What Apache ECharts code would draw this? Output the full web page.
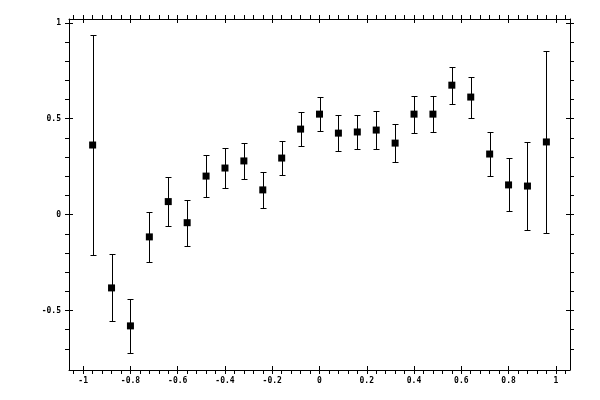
<!DOCTYPE html>
<html>
<head>
<meta charset="utf-8">
<script src="https://cdn.jsdelivr.net/npm/echarts@6/dist/echarts.min.js"></script>
<style>html,body{margin:0;padding:0;background:#fff}#c{width:600px;height:400px}</style>
</head>
<body>
<div id="c"></div>
<script>
const xValues = [-0.96,-0.88,-0.80,-0.72,-0.64,-0.56,-0.48,-0.40,-0.32,-0.24,-0.16,-0.08,0.00,0.08,0.16,0.24,0.32,0.40,0.48,0.56,0.64,0.72,0.80,0.88,0.96];
const yValues = [0.363,-0.382,-0.580,-0.116,0.068,-0.042,0.201,0.243,0.280,0.129,0.295,0.446,0.524,0.425,0.431,0.441,0.373,0.524,0.524,0.675,0.613,0.316,0.155,0.149,0.379];
const yErrors = [0.572,0.175,0.142,0.132,0.127,0.120,0.109,0.104,0.094,0.093,0.089,0.089,0.089,0.092,0.091,0.097,0.097,0.097,0.094,0.097,0.107,0.115,0.138,0.230,0.474];

const xMajorTicks = [-1,-0.8,-0.6,-0.4,-0.2,0,0.2,0.4,0.6,0.8,1];
const xMinorTicks = [-1.04,-0.96,-0.92,-0.88,-0.84,-0.76,-0.72,-0.68,-0.64,-0.56,-0.52,-0.48,-0.44,-0.36,-0.32,-0.28,-0.24,-0.16,-0.12,-0.08,-0.04,0.04,0.08,0.12,0.16,0.24,0.28,0.32,0.36,0.44,0.48,0.52,0.56,0.64,0.68,0.72,0.76,0.84,0.88,0.92,0.96,1.04];
const yMajorTicks = [-0.5,0,0.5,1];
const yMinorTicks = [-0.7,-0.6,-0.4,-0.3,-0.2,-0.1,0.1,0.2,0.3,0.4,0.6,0.7,0.8,0.9];

const X_MIN = -1.06, X_MAX = 1.06, Y_MIN = -0.81, Y_MAX = 1.02;

const chart = echarts.init(document.getElementById('c'), null, {renderer: 'canvas'});
const fmt = v => String(Math.round(v * 100) / 100);
const lbl = {fontFamily: 'DejaVu Sans Mono', fontSize: 8, fontWeight: 'bold', color: '#000'};
const lineStyle = {color: '#000', width: 1};

function axisPair(kind, position, min, max, majors, minors, showLabels) {
  const outer = {
    type: 'value', position: position, min: min, max: max,
    axisLine: {show: true, onZero: false, lineStyle: lineStyle},
    axisTick: {show: true, inside: false, length: 4, lineStyle: lineStyle, customValues: majors.concat(minors)},
    axisLabel: Object.assign({show: showLabels, margin: kind === 'x' ? 7 : 8, formatter: fmt, customValues: majors}, lbl),
    splitLine: {show: false}
  };
  const inner = {
    type: 'value', position: position, min: min, max: max,
    axisLine: {show: false, onZero: false},
    axisTick: {show: true, inside: true, length: 4, lineStyle: lineStyle, customValues: majors},
    axisLabel: {show: false},
    splitLine: {show: false}
  };
  return [outer, inner];
}

const xAxes = axisPair('x', 'bottom', X_MIN, X_MAX, xMajorTicks, xMinorTicks, true)
  .concat(axisPair('x', 'top', X_MIN, X_MAX, xMajorTicks, xMinorTicks, false));
const yAxes = axisPair('y', 'left', Y_MIN, Y_MAX, yMajorTicks, yMinorTicks, true)
  .concat(axisPair('y', 'right', Y_MIN, Y_MAX, yMajorTicks, yMinorTicks, false));

const errData = xValues.map((x, i) => [x, yValues[i] - yErrors[i], yValues[i] + yErrors[i]]);
const ptData = xValues.map((x, i) => [x, yValues[i]]);

chart.setOption({
  animation: false,
  backgroundColor: '#fff',
  grid: {left: 69, right: 30, top: 19, bottom: 30, containLabel: false},
  xAxis: xAxes,
  yAxis: yAxes,
  series: [
    {
      type: 'custom',
      xAxisIndex: 0, yAxisIndex: 0,
      data: errData,
      encode: {x: 0, y: [1, 2]},
      renderItem: function (params, api) {
        const x = api.value(0);
        const lo = api.coord([x, api.value(1)]);
        const hi = api.coord([x, api.value(2)]);
        const cx = Math.round(lo[0]) + 0.5;
        const yl = Math.round(lo[1]) + 0.5;
        const yh = Math.round(hi[1]) + 0.5;
        const w = 3;
        const st = {stroke: '#000', lineWidth: 1, fill: null};
        return {
          type: 'group',
          children: [
            {type: 'line', shape: {x1: cx, y1: yl, x2: cx, y2: yh}, style: st},
            {type: 'line', shape: {x1: cx - w, y1: yl, x2: cx + w, y2: yl}, style: st},
            {type: 'line', shape: {x1: cx - w, y1: yh, x2: cx + w, y2: yh}, style: st}
          ]
        };
      },
      z: 2
    },
    {
      type: 'scatter',
      xAxisIndex: 0, yAxisIndex: 0,
      data: ptData,
      symbol: 'rect',
      symbolSize: 7,
      itemStyle: {color: '#000', opacity: 1},
      emphasis: {disabled: true},
      z: 3
    }
  ]
});
</script>
</body>
</html>
